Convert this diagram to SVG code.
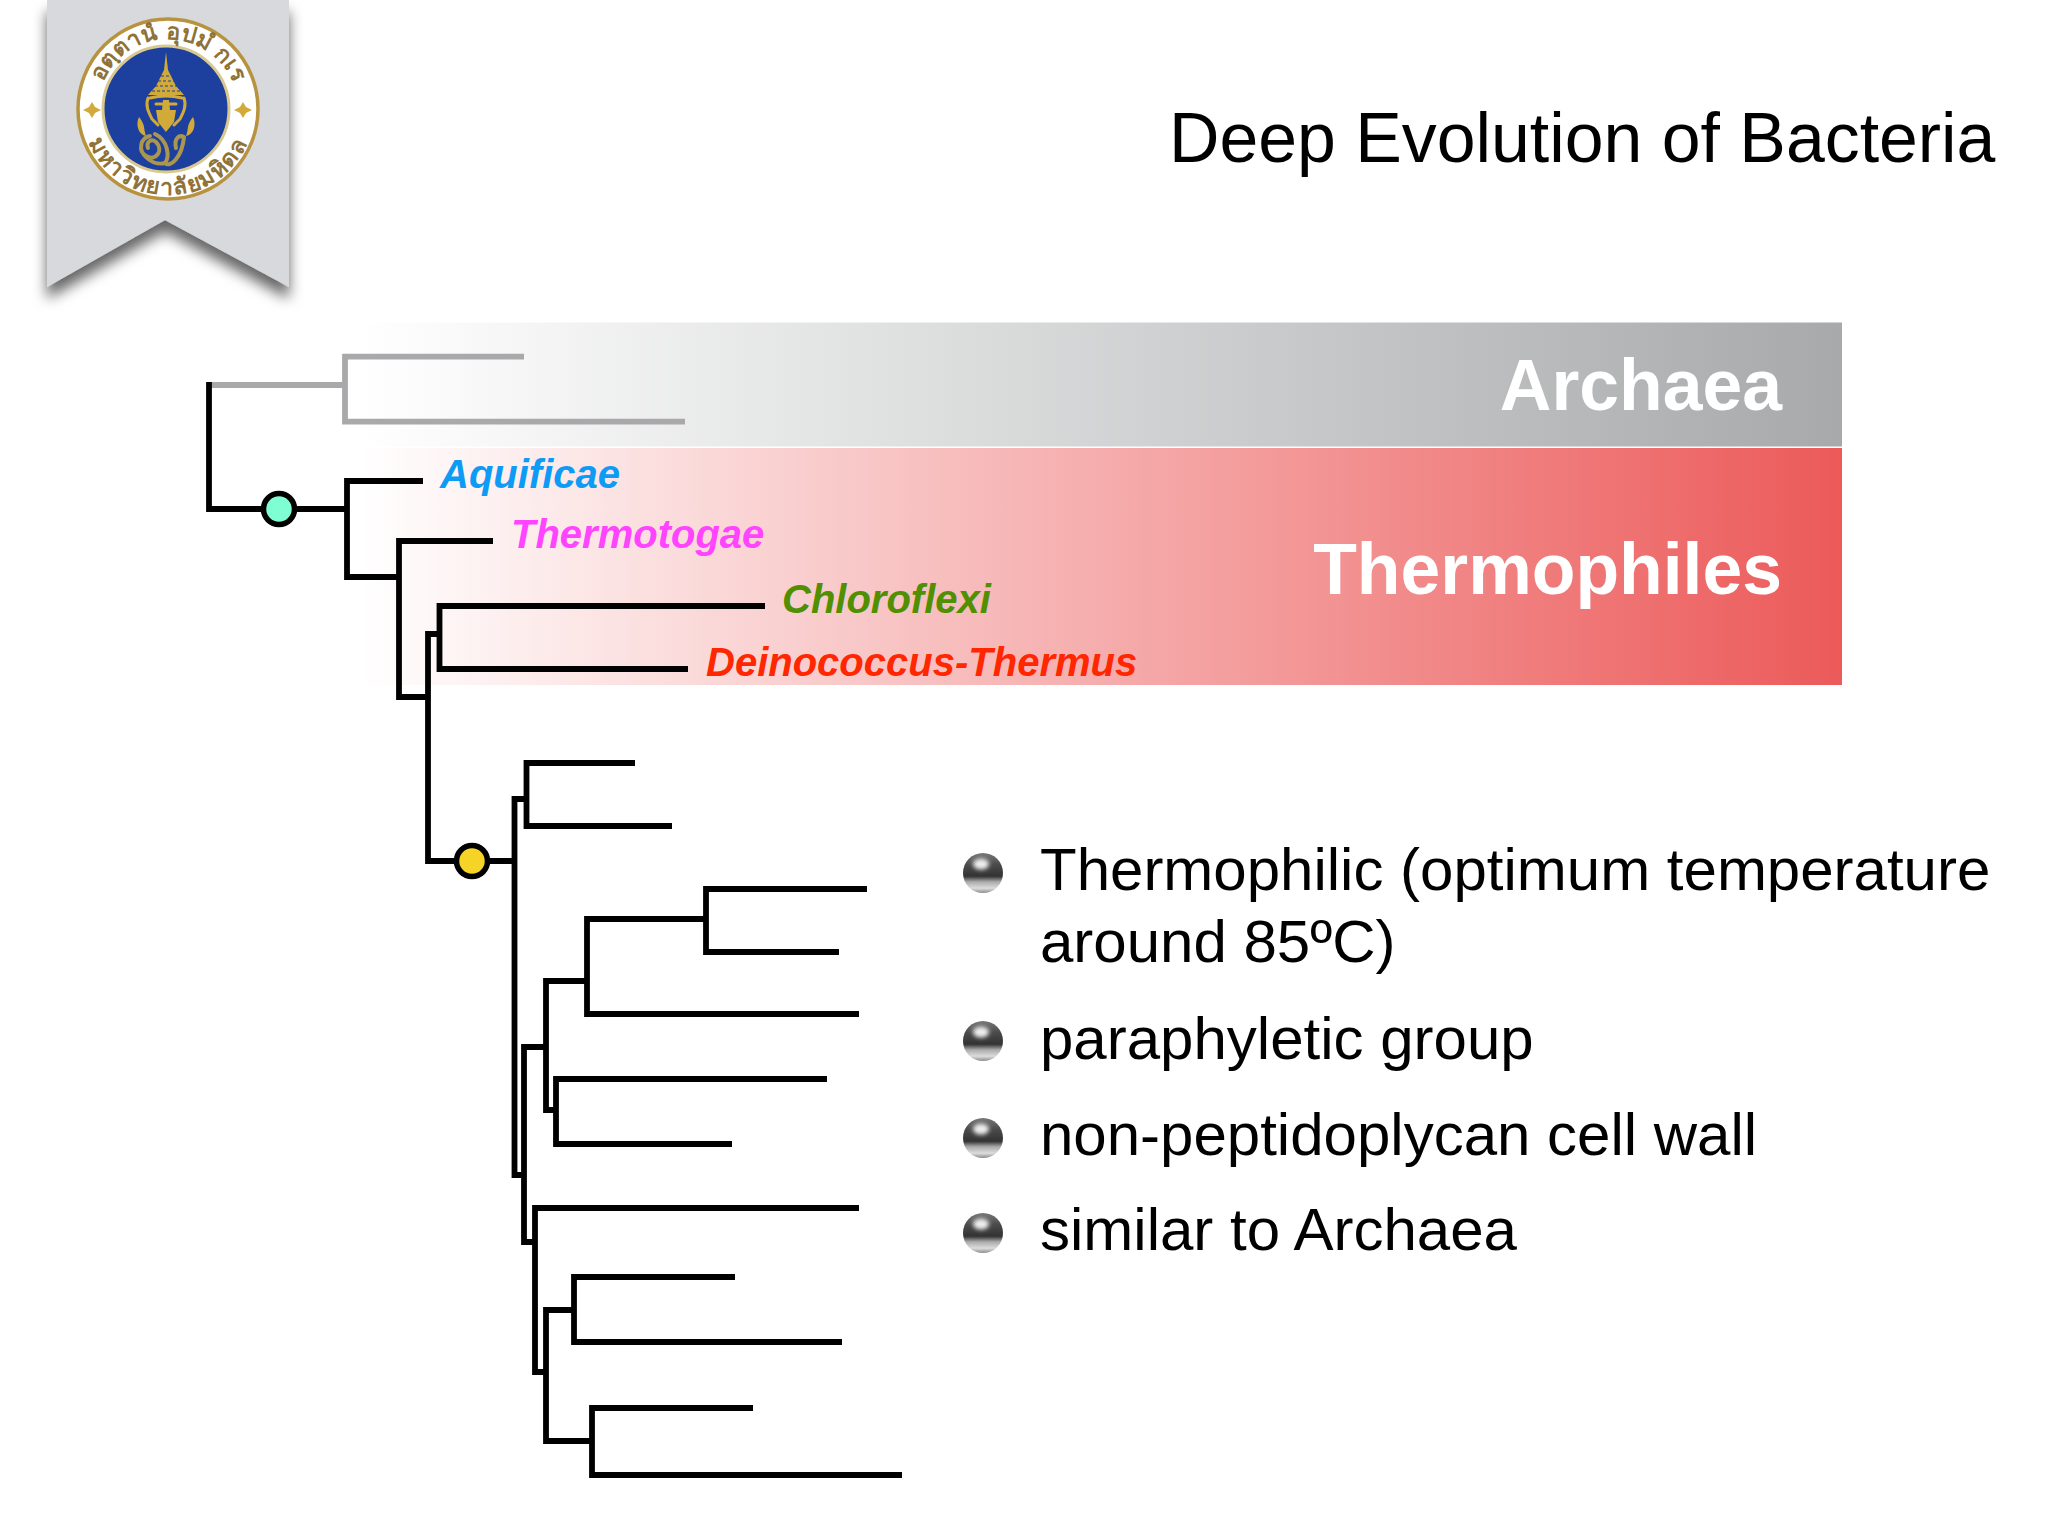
<svg xmlns="http://www.w3.org/2000/svg" xmlns:xlink="http://www.w3.org/1999/xlink" width="2048" height="1536" viewBox="0 0 2048 1536">
<style>
text{font-family:"Liberation Sans",Arial,sans-serif}
.b{fill:none;stroke:#000;stroke-width:5.8;stroke-linecap:butt;stroke-linejoin:miter}
.g{fill:none;stroke:#a9a9ab;stroke-width:5.8;stroke-linecap:butt;stroke-linejoin:miter}
.lbl{font-weight:bold;font-style:italic;font-size:40px}
.band{font-weight:bold;fill:#fff;text-anchor:end;font-size:71.5px}
.item{font-size:60px;fill:#000}
.gold{fill:#d2aa3a}
.goldline{fill:none;stroke:#d2aa3a;stroke-width:3;stroke-linecap:round;stroke-linejoin:round}
.tail{fill:none;stroke:#ab9650;stroke-width:4;stroke-linecap:round;stroke-linejoin:round}
.gap{fill:none;stroke:#1d3f9e;stroke-width:1.2;stroke-dasharray:3 2}
.thai{font-family:"Noto Sans","DejaVu Sans",sans-serif;font-size:23px;font-weight:bold;fill:#8f7238;text-anchor:middle}
</style>
<defs>
<linearGradient id="gGrey" x1="0" x2="1" y1="0" y2="0"><stop offset="0" stop-color="#fff"/><stop offset="1" stop-color="#a7a9aa"/></linearGradient>
<linearGradient id="gRed" x1="0" x2="1" y1="0" y2="0"><stop offset="0" stop-color="#fff"/><stop offset="1" stop-color="#ec5a5a"/></linearGradient>
<linearGradient id="ball" x1="0" x2="0" y1="0" y2="1"><stop offset="0" stop-color="#777"/><stop offset="0.3" stop-color="#4a4a4a"/><stop offset="0.58" stop-color="#333"/><stop offset="0.72" stop-color="#aaa"/><stop offset="0.88" stop-color="#ddd"/><stop offset="1" stop-color="#8c8c8c"/></linearGradient>
<filter id="shadow" x="-20%" y="-20%" width="140%" height="140%"><feDropShadow dx="0" dy="12" stdDeviation="7" flood-color="#000" flood-opacity="0.6"/></filter>
<filter id="soft" x="-50%" y="-50%" width="200%" height="200%"><feGaussianBlur stdDeviation="2"/></filter>
<filter id="soft2" x="-20%" y="-20%" width="140%" height="140%"><feGaussianBlur stdDeviation="0.7"/></filter>
<path id="ringTop" d="M98 109 A70 70 0 0 1 238 109"/>
<path id="ringBot" d="M82 109 A86 86 0 0 0 254 109"/>
<g id="sphere">
<circle cx="0" cy="0" r="20" fill="url(#ball)" filter="url(#soft2)"/>
<ellipse cx="-2" cy="-9" rx="8" ry="5.500" fill="#eee" filter="url(#soft)"/>
</g>
</defs>
<rect width="2048" height="1536" fill="#fff"/>

<g id="ribbon">
<path d="M47 0H289V287L165 220L47 287Z" fill="#d8d9dc" filter="url(#shadow)"/>
</g>
<g id="logo">
<circle cx="168" cy="109" r="90" fill="#fff" stroke="#b8933f" stroke-width="3.500"/>
<circle cx="166" cy="109" r="63" fill="#1d3f9e" stroke="#d9c98f" stroke-width="3"/>
<text class="thai"><textPath xlink:href="#ringTop" href="#ringTop" startOffset="29%">อตฺตานํ</textPath></text>
<text class="thai"><textPath xlink:href="#ringTop" href="#ringTop" startOffset="59%">อุปมํ</textPath></text>
<text class="thai"><textPath xlink:href="#ringTop" href="#ringTop" startOffset="80%">กเร</textPath></text>
<text class="thai" style="letter-spacing:1.500px"><textPath xlink:href="#ringBot" href="#ringBot" startOffset="50%">มหาวิทยาลัยมหิดล</textPath></text>
<path class="gold" d="M92 102L95 107L101 110L95 113L92 118L89 113L83 110L89 107Z"/>
<path class="gold" d="M243 102L246 107L252 110L246 113L243 118L240 113L234 110L240 107Z"/>
<path class="gold" d="M166 52L168 70L172 78L176 86L184 95L148 95L156 86L160 78L164 70Z"/>
<path class="gap" d="M161 76H171M158 81H174M155 86H177M152 91H180"/>
<path class="goldline" d="M148 98C145 106 149 113 152 119L158 125M184 98C187 106 183 113 180 119L174 125M150 98Q166 94 182 98M156 104H176"/>
<path class="gold" d="M163 100H169L170 110H176L174 122L166 132L158 122L156 110H162Z"/>
<path class="gold" d="M139 117C135 125 139 135 146 136C143 128 146 126 139 117Z"/>
<path class="gold" d="M193 117C197 125 193 135 186 136C189 128 186 126 193 117Z"/>
<path class="tail" d="M150 136C140 138 138 151 146 156C156 162 164 150 156 142C151 138 146 142 148 148"/>
<path class="tail" d="M155 134C168 140 170 157 165 163C170 168 182 158 184 137C178 134 174 140 176 148"/>
<path class="tail" d="M165 163C158 165 150 162 144 155"/>
</g>

<g id="title"><text x="1169" y="162" font-size="69.800" fill="#000">Deep Evolution of Bacteria</text></g>

<g id="band-archaea">
<rect x="360" y="322.500" width="1482" height="124" fill="url(#gGrey)"/>
<text class="band" x="1782" y="410">Archaea</text>
</g>
<g id="band-thermophiles">
<rect x="360" y="448" width="1482" height="237" fill="url(#gRed)"/>
<text class="band" x="1782" y="594">Thermophiles</text>
</g>

<g id="connectors">
<path class="g" d="M209 385H345M524 356.700H345V421.700H685"/>
<path class="b" d="M209 382V509H347"/>
<path class="b" d="M423 481H347V577H399"/>
<path class="b" d="M493 541H399V697H428"/>
<path class="b" d="M440 634H428V861H514.500"/>
<path class="b" d="M765 606H439.500V669H688"/>
<path class="b" d="M527 799H514.500V1175H524"/>
<path class="b" d="M635 763H526.500V826H672"/>
<path class="b" d="M546 1047H524V1242H535"/>
<path class="b" d="M587 981H546V1110H556"/>
<path class="b" d="M859 1014H587V919H706"/>
<path class="b" d="M867 889H706V952H839"/>
<path class="b" d="M827 1079H556V1144H732"/>
<path class="b" d="M859 1208H535V1372H546"/>
<path class="b" d="M574 1310H546V1441H592"/>
<path class="b" d="M735 1277H574V1342H842"/>
<path class="b" d="M753 1408H592V1475H902"/>
</g>

<g id="node-root"><circle cx="279" cy="509" r="15.500" fill="#7ffdd3" stroke="#000" stroke-width="5.500"/></g>
<g id="node-bacteria"><circle cx="472" cy="861" r="15.500" fill="#f5d327" stroke="#000" stroke-width="5.500"/></g>

<g id="label-aquificae"><text class="lbl" x="440" y="488" fill="#0d9bf5">Aquificae</text></g>
<g id="label-thermotogae"><text class="lbl" x="511" y="548" fill="#ff44ff">Thermotogae</text></g>
<g id="label-chloroflexi"><text class="lbl" x="782" y="613" fill="#4f8f00">Chloroflexi</text></g>
<g id="label-deinococcus"><text class="lbl" x="706" y="676" fill="#ff2600">Deinococcus-Thermus</text></g>

<g id="bullets">
<use href="#sphere" x="983" y="873"/>
<text class="item" x="1040" y="890">Thermophilic (optimum temperature</text>
<text class="item" x="1040" y="962">around 85ºC)</text>
<use href="#sphere" x="983" y="1041"/>
<text class="item" x="1040" y="1059">paraphyletic group</text>
<use href="#sphere" x="983" y="1138"/>
<text class="item" x="1040" y="1155">non-peptidoplycan cell wall</text>
<use href="#sphere" x="983" y="1233"/>
<text class="item" x="1040" y="1250">similar to Archaea</text>
</g>
</svg>
